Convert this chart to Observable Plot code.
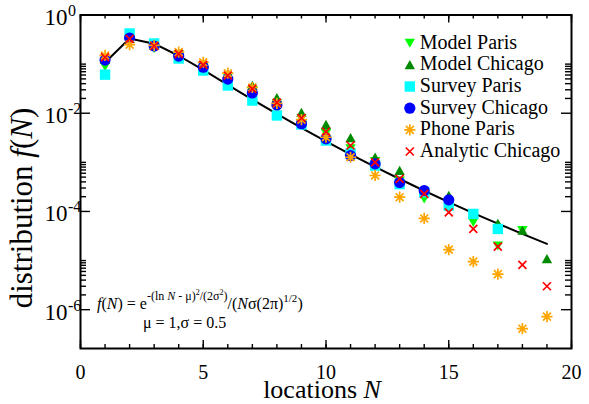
<!DOCTYPE html>
<html><head><meta charset="utf-8">
<script src="https://cdn.jsdelivr.net/npm/d3@7"></script>
<script src="https://cdn.jsdelivr.net/npm/@observablehq/plot@0.6"></script>
<style>
body{margin:0;background:#fff}
svg{display:block}
svg text, svg tspan{font-family:"Liberation Serif","Times New Roman","DejaVu Serif",serif !important;}
</style>
</head><body><div id="chart"></div>
<script>
// ---- data ----
const locations = [1,2,3,4,5,6,7,8,9,10,11,12,13,14,15,16,17,18,19];
const modelParis = [0.089,0.32,0.21,0.157,0.089,0.053,0.029,0.0158,0.0078,0.0039,0.0019,0.00104,0.00042,0.00018,0.00012,6.0e-5,2.0e-5,4.1e-5];
const modelChicago = [0.125,0.33,0.245,0.165,0.1,0.063,0.0367,0.0205,0.0103,0.0059,0.00316,0.00127,0.00068,0.00026,0.00021,9.0e-5,5.7e-5,4.1e-5,1.08e-5];
const surveyParis = [0.061,0.42,0.263,0.13,0.074,0.0367,0.0181,0.009,0.0059,0.00278,0.00151,0.00086,0.00036,0.000246,0.000132,8.9e-5,4.4e-5];
const surveyChicago = [0.121,0.34,0.234,0.146,0.0865,0.0497,0.0258,0.0147,0.0061,0.00301,0.00137,0.00093,0.00039,0.000267,0.000172];
const phoneParis = [0.15,0.25,0.24,0.175,0.109,0.0653,0.0334,0.0158,0.0074,0.00324,0.00127,0.00054,0.000195,7.2e-5,1.67e-5,9.5e-6,5.3e-6,4.1e-7,7.2e-7];
const analyticChicago = [0.138,0.325,0.234,0.162,0.0968,0.0586,0.0314,0.0165,0.008,0.00424,0.0022,0.001,0.00046,0.000228,9.6e-5,4.4e-5,1.93e-5,8.2e-6,3.0e-6];
const lognormalFit = [0.108,0.331,0.261,0.148,0.076,0.0379,0.019,0.0097,0.00505,0.00268,0.00146,0.000809,0.000458,0.000264,0.000155,9.28e-5,5.66e-5,3.5e-5,2.19e-5];
const seriesNames = ["Model Paris","Model Chicago","Survey Paris","Survey Chicago","Phone Paris","Analytic Chicago"];
const xTickLabels = [0,5,10,15,20];
const yTickExponents = [0,-2,-4,-6];

// ---- styling ----
const FONT = "Liberation Serif";
const colors = ["#00ff00","#008b00","#00ffff","#0000ff","#ffa500","#ff0000"];
const sym = {
  down: {draw(c){c.moveTo(0,4.6);c.lineTo(-5.2,-4.4);c.lineTo(5.2,-4.4);c.closePath();}},
  up: {draw(c){c.moveTo(0,-4.8);c.lineTo(5.2,4.4);c.lineTo(-5.2,4.4);c.closePath();}},
  square: {draw(c){c.rect(-5.2,-5.2,10.4,10.4);}},
  circle: {draw(c){c.moveTo(5.6,0);c.arc(0,0,5.6,0,2*Math.PI);}},
  aster: {draw(c){const r=5.6,d=r*0.7071;c.moveTo(0,-r);c.lineTo(0,r);c.moveTo(-r,0);c.lineTo(r,0);c.moveTo(-d,-d);c.lineTo(d,d);c.moveTo(-d,d);c.lineTo(d,-d);}},
  times: {draw(c){const r=4;c.moveTo(-r,-r);c.lineTo(r,r);c.moveTo(-r,r);c.lineTo(r,-r);}}
};
const seriesSymbols = [sym.down, sym.up, sym.square, sym.circle, sym.aster, sym.times];
const strokeSymbol = [false,false,false,false,true,true];
const seriesValues = [modelParis, modelChicago, surveyParis, surveyChicago, phoneParis, analyticChicago];

const rows = (vals) => vals.map((v,i)=>({N: locations[i], v}));

const W = 589, H = 404, mL = 80, mR = 18, mT = 14.5, mB = 56;
const fw = W - mL - mR, fh = H - mT - mB;

const xMinor = d3.range(0, 21);
const yMajor = yTickExponents.map(e => 10 ** e);
const yMinor = [];
for (const e of [-2,-4,-6]) for (let k = 2; k <= 10; k++) yMinor.push(k * 10 ** e);

const dotMark = (i, data, extra={}) => Plot.dot(data, {
  x: "N", y: "v", symbol: seriesSymbols[i],
  fill: strokeSymbol[i] ? "none" : colors[i],
  stroke: strokeSymbol[i] ? colors[i] : "none",
  strokeWidth: 1.7, ...extra
});

const marks = [
  Plot.line(rows(lognormalFit), {x: "N", y: "v", stroke: "black", strokeWidth: 2}),
  ...seriesValues.map((vals, i) => dotMark(i, rows(vals))),
  // ticks (inward)
  Plot.tickX(xMinor, {x: d => d, insetTop: fh - 4, stroke: "black", strokeWidth: 1.4}),
  Plot.tickX(xTickLabels, {x: d => d, insetTop: fh - 8, stroke: "black", strokeWidth: 1.4}),
  Plot.tickX(xMinor, {x: d => d, insetBottom: fh - 4, stroke: "black", strokeWidth: 1.4}),
  Plot.tickX(xTickLabels, {x: d => d, insetBottom: fh - 8, stroke: "black", strokeWidth: 1.4}),
  Plot.tickY(yMinor, {y: d => d, insetRight: fw - 6, stroke: "black", strokeWidth: 1.4}),
  Plot.tickY(yMajor, {y: d => d, insetRight: fw - 10, stroke: "black", strokeWidth: 1.4}),
  Plot.tickY(yMinor, {y: d => d, insetLeft: fw - 6, stroke: "black", strokeWidth: 1.4}),
  Plot.tickY(yMajor, {y: d => d, insetLeft: fw - 10, stroke: "black", strokeWidth: 1.4}),
  Plot.frame({stroke: "black", strokeWidth: 2}),
  // tick labels
  Plot.text(xTickLabels, {x: d => d, text: d => String(d), frameAnchor: "bottom", lineAnchor: "middle", dy: 23.6, fontSize: 20, fontFamily: FONT}),
  Plot.text(yTickExponents, {y: e => 10 ** e, text: () => "10", frameAnchor: "left", textAnchor: "end", lineAnchor: "middle", dx: -13, dy: 2.6, fontSize: 23, fontFamily: FONT}),
  Plot.text(yTickExponents, {y: e => 10 ** e, text: e => String(e), frameAnchor: "left", textAnchor: "start", lineAnchor: "middle", dx: -12.5, dy: -4.1, fontSize: 16, fontFamily: FONT}),
];
// legend
seriesNames.forEach((name, i) => {
  const cy = 42.7 + i * 21.66 - mT;
  marks.push(dotMark(i, [{}], {x: null, y: null, frameAnchor: "top-left", dx: 409.3 - mL, dy: cy}));
  marks.push(Plot.text([name], {frameAnchor: "top-left", textAnchor: "start", lineAnchor: "middle", dx: 419.3 - mL, dy: cy - 1, fontSize: 20, fontFamily: FONT}));
});

const chart = Plot.plot({
  width: W, height: H, marginLeft: mL, marginRight: mR, marginTop: mT, marginBottom: mB,
  style: {background: "white", color: "black", fontFamily: FONT},
  x: {domain: [0, 20], axis: null},
  y: {type: "log", domain: [1.62e-7, 1], axis: null},
  marks
});
chart.setAttribute("font-family", FONT);
document.getElementById("chart").appendChild(chart);

// axis titles and formula annotation (mixed italic / superscripts)
const svg = d3.select(chart);
const yt = svg.append("text").attr("transform", "translate(32,208) rotate(-90)").attr("text-anchor", "middle").attr("font-size", 31).attr("fill", "black");
yt.append("tspan").text("distribution ");
yt.append("tspan").attr("font-style", "italic").text("f");
yt.append("tspan").text("(");
yt.append("tspan").attr("font-style", "italic").text("N");
yt.append("tspan").text(")");

const xt = svg.append("text").attr("x", 322).attr("y", 398).attr("text-anchor", "middle").attr("font-size", 26).attr("fill", "black");
xt.append("tspan").text("locations ");
xt.append("tspan").attr("font-style", "italic").text("N");

const f = svg.append("text").attr("x", 97).attr("y", 309).attr("text-anchor", "start").attr("font-size", 16).attr("fill", "black");
const ts = (t, o={}) => { const s = f.append("tspan").text(t); for (const k in o) s.attr(k, o[k]); return s; };
ts("f", {"font-style": "italic"}); ts("("); ts("N", {"font-style": "italic"}); ts(") = e");
ts("-(ln ", {dy: -9, "font-size": 12});
ts("N", {"font-size": 12, "font-style": "italic"});
ts(" - μ)", {"font-size": 12});
ts("2", {dy: -5, "font-size": 8});
ts("/(2σ", {dy: 5, "font-size": 12});
ts("2", {dy: -5, "font-size": 8});
ts(")", {dy: 5, "font-size": 12});
ts("/(", {dy: 9}); ts("N", {"font-style": "italic"}); ts("σ(2π)");
ts("1/2", {dy: -7, "font-size": 11});
ts(")", {dy: 7});

svg.append("text").attr("x", 143).attr("y", 328).attr("text-anchor", "start").attr("font-size", 16).attr("fill", "black").text("μ = 1,σ = 0.5");
</script>
</body></html>
